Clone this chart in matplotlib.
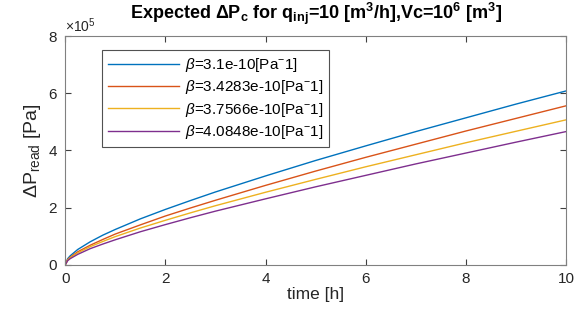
import numpy as np
import matplotlib.pyplot as plt
from matplotlib.ticker import ScalarFormatter

plt.rcParams['font.family'] = ['Liberation Sans', 'DejaVu Sans']
plt.rcParams['mathtext.fontset'] = 'custom'
plt.rcParams['mathtext.rm'] = 'Liberation Sans'
plt.rcParams['mathtext.it'] = 'Liberation Sans:italic'
plt.rcParams['mathtext.bf'] = 'Liberation Sans:bold'

# time [h]
t = [0, 0.05, 0.1, 0.25, 0.5, 0.75, 1, 1.5, 2, 2.5, 3, 4, 5, 6, 7, 8, 9, 10]

# pressure drop, units of 1e5 Pa
dp_1 = [0, 0.22, 0.32, 0.54, 0.81, 1.04, 1.24, 1.61, 1.94, 2.25, 2.55, 3.11, 3.65, 4.16, 4.66, 5.14, 5.62, 6.08]
dp_2 = [0, 0.19, 0.27, 0.46, 0.69, 0.89, 1.08, 1.40, 1.71, 1.99, 2.26, 2.78, 3.28, 3.76, 4.22, 4.68, 5.12, 5.56]
dp_3 = [0, 0.17, 0.25, 0.42, 0.64, 0.82, 0.99, 1.29, 1.56, 1.82, 2.07, 2.54, 2.99, 3.43, 3.85, 4.27, 4.67, 5.07]
dp_4 = [0, 0.15, 0.22, 0.37, 0.57, 0.73, 0.88, 1.16, 1.41, 1.65, 1.88, 2.31, 2.73, 3.13, 3.53, 3.91, 4.29, 4.66]

betas = ['3.1e-10', '3.4283e-10', '3.7566e-10', '4.0848e-10']
colors = ['#0072BD', '#D95319', '#EDB120', '#7E2F8E']

fig = plt.figure(figsize=(5.82, 3.2), dpi=100)
ax = fig.add_axes([0.112, 0.172, 0.8605, 0.7155])

for dp, b, c in zip([dp_1, dp_2, dp_3, dp_4], betas, colors):
    ax.plot(t, np.array(dp) * 1e5, color=c, lw=1.0,
            label=r'$\beta$=' + b + '[Pa$^{-}$1]')

ax.set_xlim(0, 10)
ax.set_ylim(0, 8e5)
ax.set_xticks([0, 2, 4, 6, 8, 10])
ax.set_yticks([0, 2e5, 4e5, 6e5, 8e5])
fmt = ScalarFormatter(useMathText=True)
fmt.set_powerlimits((0, 0))
ax.yaxis.set_major_formatter(fmt)
ax.yaxis.get_offset_text().set_fontsize(10)
ax.yaxis.get_offset_text().set_color('#555555')

for s in ax.spines.values():
    s.set_color('#808080')
ax.tick_params(direction='in', top=True, right=True, length=4, color='#404040',
               labelsize=11, labelcolor='#262626', pad=5)

ax.set_xlabel('time [h]', fontsize=12.5, color='#262626', labelpad=1)
ax.set_ylabel(r'ΔP$_{\mathrm{read}}$ [Pa]', fontsize=14, color='#262626', labelpad=4)
ax.set_title(r'Expected ΔP$_\mathbf{c}$ for q$_\mathbf{inj}$=10 [m$^\mathbf{3}$/h],Vc=10$^\mathbf{6}$ [m$^\mathbf{3}$]',
             fontsize=13, fontweight='bold', pad=12)

leg = ax.legend(loc='upper left', bbox_to_anchor=(0.074, 0.939), borderaxespad=0,
                fontsize=11, handlelength=4.6, handletextpad=0.4, frameon=True,
                fancybox=False, edgecolor='#262626', labelspacing=0.28, borderpad=0.4)
leg.get_frame().set_linewidth(0.8)

fig.savefig('out.png', dpi=100)
